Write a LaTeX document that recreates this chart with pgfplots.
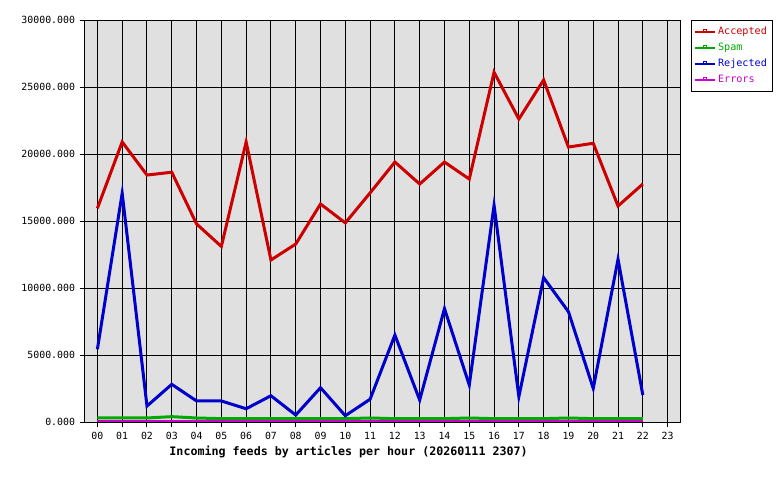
\documentclass[border=0pt]{standalone}
\usepackage{fontspec}
\setmainfont{DejaVu Sans Mono}
\usepackage{pgfplots}
\pgfplotsset{compat=1.18}
\definecolor{bgray}{RGB}{224,224,224}
\definecolor{accred}{RGB}{204,0,0}
\definecolor{spamgreen}{RGB}{0,170,0}
\definecolor{rejblue}{RGB}{0,0,204}
\definecolor{errmag}{RGB}{204,0,204}

\begin{document}
\begin{tikzpicture}[x=1pt,y=1pt]
\useasboundingbox (-63.75,-43.5) rectangle (521.25,316.5);
\begin{axis}[
  scale only axis,
  width=446.25pt, height=301.5pt,
  at={(0,0)}, anchor=south west,
  xmin=-0.5, xmax=23.5, ymin=0, ymax=30000,
  xtick={0,...,23},
  xticklabels={00,01,02,03,04,05,06,07,08,09,10,11,12,13,14,15,16,17,18,19,20,21,22,23},
  ytick={0,5000,10000,15000,20000,25000,30000},
  xtick pos=bottom, ytick pos=left,
  grid=major,
  grid style={black, line width=0.75pt},
  axis line style={black, line width=0.75pt},
  axis background/.style={fill=bgray},
  tick style={black, line width=0.75pt},
  tick align=outside,
  major tick length=4pt,
  scaled y ticks=false,
  yticklabel style={/pgf/number format/.cd, fixed, fixed zerofill, precision=3, 1000 sep={}, assume math mode=true},
  tick label style={font=\fontsize{7.4}{9}\selectfont},
  xlabel={\bfseries Incoming feeds by articles per hour (20260111 2307)},
  xlabel style={font=\fontsize{8.75}{10}\selectfont, at={(axis description cs:0.443,0)}, anchor=center, yshift=-22.5pt},
  legend style={at={(axis description cs:1.0185,1)}, anchor=north west, draw=black, line width=0.75pt,
    fill=white, font=\fontsize{7.6}{9}\selectfont, row sep=0.8pt, inner xsep=2pt, inner ysep=3pt},
  legend cell align=left,
  legend image code/.code={
    \draw[#1, line width=0.9pt] (0pt,0pt) -- (15pt,0pt);
    \draw[#1, line width=0.6pt, fill=none] (6.3pt,0pt) rectangle (8.7pt,1.8pt);
  },
]
\addplot[accred, line width=2.25pt] coordinates {
  (0,15950) (1,20900) (2,18430) (3,18640) (4,14780) (5,13100) (6,20900) (7,12090)
  (8,13280) (9,16270) (10,14860) (11,17100) (12,19400) (13,17760) (14,19400) (15,18130)
  (16,26100) (17,22610) (18,25520) (19,20520) (20,20800) (21,16120) (22,17760)
};
\addlegendentry{\textcolor{accred}{Accepted}}
\addplot[spamgreen, line width=2.25pt] coordinates {
  (0,300) (1,300) (2,300) (3,400) (4,300) (5,250) (6,250) (7,250)
  (8,250) (9,250) (10,250) (11,300) (12,250) (13,250) (14,250) (15,300)
  (16,250) (17,250) (18,250) (19,300) (20,250) (21,250) (22,250)
};
\addlegendentry{\textcolor{spamgreen}{Spam}}
\addplot[rejblue, line width=2.25pt] coordinates {
  (0,5430) (1,17070) (2,1190) (3,2810) (4,1570) (5,1570) (6,990) (7,1960)
  (8,520) (9,2560) (10,470) (11,1700) (12,6490) (13,1640) (14,8460) (15,2760)
  (16,16170) (17,1890) (18,10770) (19,8230) (20,2510) (21,12140) (22,2015)
};
\addlegendentry{\textcolor{rejblue}{Rejected}}
\addplot[errmag, line width=1.5pt] coordinates {
  (0,70) (1,70) (2,70) (3,70) (4,70) (5,70) (6,70) (7,70)
  (8,70) (9,70) (10,70) (11,70) (12,70) (13,70) (14,70) (15,70)
  (16,70) (17,70) (18,70) (19,70) (20,70) (21,70) (22,70)
};
\addlegendentry{\textcolor{errmag}{Errors}}
\end{axis}
\end{tikzpicture}
\end{document}
